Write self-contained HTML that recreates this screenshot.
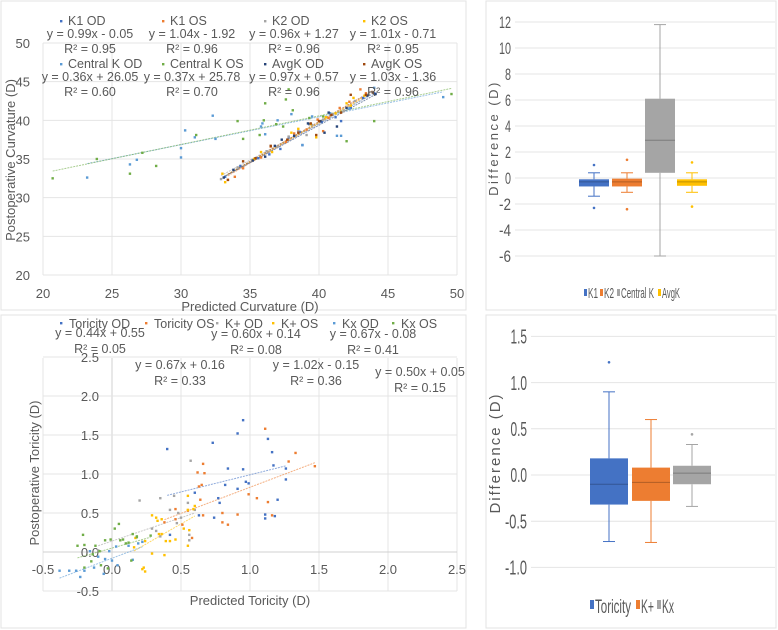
<!DOCTYPE html>
<html><head><meta charset="utf-8">
<style>
html,body{margin:0;padding:0;background:#fff;}
svg{display:block;font-family:"Liberation Sans",sans-serif;}
.t{fill:#595959;}
</style></head>
<body>
<svg id="fig" width="778" height="630" viewBox="0 0 778 630">
<rect x="0" y="0" width="778" height="630" fill="#fff"/>
<rect x="1" y="1" width="465" height="309" fill="none" stroke="#e3e3e3"/>
<rect x="1" y="315" width="465" height="313" fill="none" stroke="#e3e3e3"/>
<rect x="486" y="1" width="290" height="309" fill="none" stroke="#e3e3e3"/>
<rect x="486" y="315" width="290" height="313" fill="none" stroke="#e3e3e3"/>
<g id="g1"></g><g id="g2"></g><g id="g3"></g><g id="g4"></g>
</svg>
<script>
// ---------- Chart 1 data (curvature) ----------
const c1Series = ["K1 OD","K1 OS","K2 OD","K2 OS","Central K OD","Central K OS","AvgK OD","AvgK OS"];
const c1Colors = ["#4472C4","#ED7D31","#A5A5A5","#FFC000","#5B9BD5","#70AD47","#264478","#9E480E"];
const c1Slopes = [0.99,1.04,0.96,1.01,0.36,0.37,0.97,1.03];
const c1Intercepts = [-0.05,-1.92,1.27,-0.71,26.05,25.78,0.57,-1.36];
const c1Eq = ["y = 0.99x - 0.05","y = 1.04x - 1.92","y = 0.96x + 1.27","y = 1.01x - 0.71","y = 0.36x + 26.05","y = 0.37x + 25.78","y = 0.97x + 0.57","y = 1.03x - 1.36"];
const c1R2 = ["R² = 0.95","R² = 0.96","R² = 0.96","R² = 0.95","R² = 0.60","R² = 0.70","R² = 0.96","R² = 0.96"];
const c1XTicks = [20,25,30,35,40,45,50];
const c1YTicks = [20,25,30,35,40,45,50];
const k1od = [[33.2,32.7],[34.3,34.1],[35.6,35.1],[36.4,35.6],[37.2,36.3],[37.8,37.8],[38.6,38.5],[39.3,39.5],[40.2,39.8],[40.8,40.9],[41.2,40.4],[41.6,39.9],[42.3,41.6],[43.2,42.9],[44,43.5],[38.8,36.8]];
const k1os = [[33.4,32.3],[33.9,32.7],[34.5,33.8],[35.8,35.2],[36.5,36.6],[37.6,37.2],[38.2,38.3],[39.1,38.8],[39.9,40.1],[40.7,40.3],[41.5,41.6],[42.2,42.4],[43,44],[43.4,43.5],[40.3,38.6]];
const k2od = [[32.9,32.4],[34.1,33.9],[35.2,34.9],[36.2,36],[37,36.6],[37.8,37.9],[38.5,38.6],[39.5,39.4],[40.3,40.1],[41,40.8],[41.8,41.2],[42.6,42.5],[43.6,43.3],[39.1,38.1]];
const k2os = [[33,33.1],[33.2,32],[35.3,35],[35.8,35.9],[36.6,35.9],[38,38.4],[38.5,38.9],[39.4,39.5],[39.8,37.8],[40.5,40.4],[41.2,40.9],[42,42.2],[42.5,42.9],[43.3,43.2],[42.3,41.9]];
const ckod = [[23.2,32.6],[26.3,34.3],[26.8,34.9],[30,35.2],[30,36.4],[30.3,38.7],[31,37.8],[32.3,40.6],[32.5,37.6],[35.8,39.2],[35.9,39.6],[36.1,38.2],[37,40],[38.8,36.8],[40.8,40.9],[41.3,38],[41.6,38],[42.2,41.5],[44,44.2],[49,43],[38,40.8],[39.5,40.5]];
const ckos = [[20.7,32.5],[23.9,35],[26.3,33.1],[27.2,35.8],[28.2,34.1],[31.1,38.1],[34.1,39.9],[34.5,37.6],[35.7,38.1],[36.1,42.2],[36,40],[36.9,39.5],[37.4,39.2],[37.6,42.7],[38.1,41.3],[39.3,40.3],[40.3,40.5],[42,37.3],[44,39.9],[49.6,43.4],[37.8,44]];
const avod = [[33.1,32.6],[33.8,33.6],[35.2,34.8],[36.1,35.3],[36.8,36.7],[37.3,37.5],[38.2,38],[39.2,39.6],[40.1,39.9],[40.7,41],[41.3,39.2],[42,41.6],[43.5,43.2],[44.1,43.4],[40.4,38.4]];
const avos = [[33.4,32.3],[34.5,34.7],[35.4,35.1],[36.5,36.7],[37.7,37.5],[38.5,38.4],[39.4,39.6],[40,39.9],[40.9,40.7],[41.6,41],[42.3,43.3],[43.4,43.3],[43.9,43.6],[39.8,38.1]];
const c1Points = [k1od,k1os,k2od,k2os,ckod,ckos,avod,avos];

// ---------- Chart 2 data (toricity) ----------
const c2Series = ["Toricity OD","Toricity OS","K+ OD","K+ OS","Kx OD","Kx OS"];
const c2Colors = ["#4472C4","#ED7D31","#A5A5A5","#FFC000","#5B9BD5","#70AD47"];
const c2Slopes = [0.44,0.67,0.60,1.02,0.67,0.50];
const c2Intercepts = [0.55,0.16,0.14,-0.15,-0.08,0.05];
const c2Eq = ["y = 0.44x + 0.55","y = 0.67x + 0.16","y = 0.60x + 0.14","y = 1.02x - 0.15","y = 0.67x - 0.08","y = 0.50x + 0.05"];
const c2R2 = ["R² = 0.05","R² = 0.33","R² = 0.08","R² = 0.36","R² = 0.41","R² = 0.15"];
const c2XTicks = ["-0.5","0.0","0.5","1.0","1.5","2.0","2.5"];
const c2YTicks = ["-0.5","0.0","0.5","1.0","1.5","2.0","2.5"];
const tod = [[0.4,1.32],[0.73,1.4],[0.91,1.52],[0.95,1.69],[1.13,1.45],[1.16,1.28],[1.17,1.11],[1.26,1.07],[1.26,0.93],[0.84,1.07],[0.95,1.06],[0.97,0.9],[0.99,0.88],[0.91,0.81],[0.82,0.86],[0.77,0.69],[0.78,0.63],[0.6,0.76],[0.63,0.47],[0.74,0.44],[1.11,0.48],[1.11,0.43],[1.18,0.46],[1.2,0.67],[0.42,0.22]];
const tos = [[1.11,1.58],[1.33,1.27],[1.28,1.16],[1.47,1.1],[0.66,1.13],[0.62,1.02],[0.67,1.01],[0.65,0.86],[0.63,0.84],[0.64,0.67],[0.99,0.74],[1.05,0.69],[1.13,0.64],[0.8,0.5],[0.66,0.47],[0.91,0.48],[1.16,0.47],[0.8,0.38],[0.84,0.35],[0.55,0.53],[0.46,0.55],[0.46,0.42],[0.38,0.38],[0.51,0.35],[0.58,0.18]];
const kpod = [[0.57,1.17],[0.2,0.66],[0.35,0.69],[0.45,0.72],[0.42,0.54],[0.55,0.63],[0.48,0.5],[0.5,0.44],[0.32,0.27],[0.35,0.2],[0.29,0.3],[0.56,0.15],[0.56,0.22],[0.6,0.54],[0.47,0.37],[-0.1,0.02]];
const kpos = [[0.29,0.47],[0.32,0.44],[0.33,0.4],[0.36,0.42],[0.34,0.23],[0.36,0.23],[0.39,0.14],[0.42,0.14],[0.46,0.16],[0.29,-0.02],[0.38,-0.04],[0.55,0.72],[0.6,0.59],[0.59,0.55],[0.55,0.54],[0.52,0.3],[0.56,0.28],[0.55,0.08],[0.23,-0.2],[0.24,-0.25],[0.22,-0.22],[0.17,0.18],[0.16,0.06],[0.24,0.14]];
const kxod = [[-0.38,-0.24],[-0.31,-0.24],[-0.26,-0.24],[-0.23,-0.32],[-0.2,-0.24],[-0.13,-0.2],[-0.1,-0.06],[-0.05,-0.09],[0,-0.11],[0.04,-0.17],[-0.06,-0.28],[-0.16,0.01],[0.03,0.07],[0.12,0.08],[0.19,0.11],[0.22,0.13],[-0.02,0.01],[0.15,-0.1]];
const kxos = [[-0.25,0.08],[-0.21,0.22],[-0.2,0.09],[-0.14,-0.03],[-0.12,0.08],[-0.09,0.01],[-0.05,0.15],[-0.01,0.16],[0.02,0.3],[0.05,0.36],[0.06,0.15],[0.08,0.16],[0.1,0.11],[0.12,0.12],[0.15,0.23],[0.18,0.19],[0.18,0.2],[-0.2,-0.2],[-0.15,-0.12],[-0.08,-0.17],[-0.03,-0.21],[0.14,-0.11],[0.28,0.21]];
const c2Points = [tod,tos,kpod,kpos,kxod,kxos];

// ---------- Chart 3 data (curvature difference boxes) ----------
const b1Cats = ["K1","K2","Central K","AvgK"];
const b1Colors = ["#4472C4","#ED7D31","#A5A5A5","#FFC000"];
const b1Min = [-1.4,-1.1,-6,-1.1];
const b1Q1 = [-0.65,-0.65,0.4,-0.6];
const b1Med = [-0.3,-0.3,2.9,-0.3];
const b1Q3 = [-0.1,-0.05,6.1,-0.1];
const b1Max = [0.4,0.4,11.8,0.4];
const b1Outliers = [[1.0,-2.3],[1.4,-2.4],[],[1.2,-2.2]];
const b1YTicks = [-6,-4,-2,0,2,4,6,8,10,12];

// ---------- Chart 4 data (toricity difference boxes) ----------
const b2Cats = ["Toricity","K+","Kx"];
const b2Colors = ["#4472C4","#ED7D31","#A5A5A5"];
const b2Min = [-0.72,-0.73,-0.34];
const b2Q1 = [-0.32,-0.28,-0.1];
const b2Med = [-0.1,-0.08,0.02];
const b2Q3 = [0.18,0.08,0.1];
const b2Max = [0.9,0.6,0.33];
const b2Outliers = [[1.22],[],[0.44]];
const b2YTicks = ["-1.0","-0.5","0.0","0.5","1.0","1.5"];

const NS="http://www.w3.org/2000/svg";
function mk(parent,tag,attrs,text){const e=document.createElementNS(NS,tag);for(const k in attrs)e.setAttribute(k,attrs[k]);if(text!==undefined)e.textContent=text;parent.appendChild(e);return e;}

// ===== Chart 1 =====
(function(){
const g=document.getElementById('g1');
const X=v=>43+(v-20)/30*414, Y=v=>275-(v-20)/30*232;
c1XTicks.forEach(v=>{const l=mk(g,'line',{x1:X(v),x2:X(v),y1:43,y2:275,stroke:'#e4e4e4'});

const t=mk(g,'text',{x:X(v),y:298,'font-size':13,'text-anchor':'middle',class:'t'},v);
});
c1YTicks.forEach(v=>{const l=mk(g,'line',{x1:43,x2:457,y1:Y(v),y2:Y(v),stroke:'#e4e4e4'});

const t=mk(g,'text',{x:30,y:Y(v)+5,'font-size':13,'text-anchor':'end',class:'t'},v);
});
const xt=mk(g,'text',{x:250,y:311,'font-size':13,'text-anchor':'middle',class:'t'},'Predicted Curvature (D)');

const yt=mk(g,'text',{x:0,y:0,'font-size':13,'text-anchor':'middle',class:'t',transform:'translate(15,160) rotate(-90)'},'Postoperative Curvature (D)');

c1Points.forEach((pts,i)=>{
 const xs=pts.map(p=>p[0]);const a=Math.min(...xs),b=Math.max(...xs);
 const tl=mk(g,'line',{x1:X(a),y1:Y(c1Slopes[i]*a+c1Intercepts[i]),x2:X(b),y2:Y(c1Slopes[i]*b+c1Intercepts[i]),stroke:c1Colors[i],'stroke-width':1,'stroke-dasharray':'2,1',opacity:0.6});
 
});
c1Points.forEach((pts,i)=>{pts.forEach(p=>{
 const r=mk(g,'rect',{x:X(p[0])-1.2,y:Y(p[1])-1.2,width:2.4,height:2.4,fill:c1Colors[i]});
 
});});
const cols=[90,192,294,393];
c1Series.forEach((s,i)=>{
 const cx=cols[i%4],row=Math.floor(i/4),by=row?68:25;
 const lg=mk(g,'g',{});
 
 mk(lg,'rect',{x:cx-30,y:by-5,width:2.4,height:2.4,fill:c1Colors[i]});
 mk(lg,'text',{x:cx-22,y:by,'font-size':12.5,class:'t'},s);
 const e=mk(g,'text',{x:cx,y:by+13,'font-size':12.5,'text-anchor':'middle',class:'t'},c1Eq[i]);
 
 const r=mk(g,'text',{x:cx,y:by+28,'font-size':12.5,'text-anchor':'middle',class:'t'},c1R2[i]);
 
});
})();

// ===== Chart 2 =====
(function(){
const g=document.getElementById('g2');
const X=v=>112+v*138, Y=v=>552-v*78;
c2XTicks.forEach(s=>{const v=parseFloat(s);
 const l=mk(g,'line',{x1:X(v),x2:X(v),y1:358,y2:591,stroke:v===0?'#d0d0d0':'#e4e4e4'});
 
 const t=mk(g,'text',{x:X(v),y:574,'font-size':13,'text-anchor':'middle',class:'t'},s);
 });
c2YTicks.forEach(s=>{const v=parseFloat(s);
 const l=mk(g,'line',{x1:43,x2:457,y1:Y(v),y2:Y(v),stroke:v===0?'#d0d0d0':'#e4e4e4'});
 
 const t=mk(g,'text',{x:99,y:Y(v)+5,'font-size':13,'text-anchor':'end',class:'t'},s);
 });
const xt=mk(g,'text',{x:250,y:605,'font-size':13,'text-anchor':'middle',class:'t'},'Predicted Toricity (D)');

const yt=mk(g,'text',{x:0,y:0,'font-size':13,'text-anchor':'middle',class:'t',transform:'translate(39,473) rotate(-90)'},'Postoperative Toricity (D)');

c2Points.forEach((pts,i)=>{
 const xs=pts.map(p=>p[0]);const a=Math.min(...xs),b=Math.max(...xs);
 const tl=mk(g,'line',{x1:X(a),y1:Y(c2Slopes[i]*a+c2Intercepts[i]),x2:X(b),y2:Y(c2Slopes[i]*b+c2Intercepts[i]),stroke:c2Colors[i],'stroke-width':1,'stroke-dasharray':'2,1',opacity:0.6});
 
});
c2Points.forEach((pts,i)=>{pts.forEach(p=>{
 const r=mk(g,'rect',{x:X(p[0])-1.2,y:Y(p[1])-1.2,width:2.4,height:2.4,fill:c2Colors[i]});
 
});});
const lx=[100,185,256,312,373,432];
c2Series.forEach((s,i)=>{
 const lg=mk(g,'g',{});
 
 mk(lg,'rect',{x:lx[i]-40,y:322,width:2.4,height:2.4,fill:c2Colors[i]});
 mk(lg,'text',{x:lx[i]-31,y:328,'font-size':12.5,class:'t'},s);
});
const ex=[100,180,256,316,373,420], ey=[337,369,338,369,338,376];
c2Eq.forEach((e,i)=>{
 const t=mk(g,'text',{x:ex[i],y:ey[i],'font-size':12.5,'text-anchor':'middle',class:'t'},e);
 
 const r=mk(g,'text',{x:ex[i],y:ey[i]+16,'font-size':12.5,'text-anchor':'middle',class:'t'},c2R2[i]);
 
});
})();

// ===== Box chart helper =====
function boxChart(g,cfg){
 const Y=cfg.Y;
 cfg.ticks.forEach(s=>{const v=parseFloat(s);
  const l=mk(g,'line',{x1:cfg.x0,x2:cfg.x1,y1:Y(v),y2:Y(v),stroke:'#e4e4e4'});
  
  const t=mk(g,'text',{x:cfg.lx,y:Y(v)+cfg.fs*0.36,'font-size':cfg.fs,'text-anchor':'end',class:'t','textLength':cfg.tl(s),'lengthAdjust':'spacingAndGlyphs'},s);
  });
 cfg.cats.forEach((c,i)=>{
  const cx=cfg.cx[i],w=cfg.w,col=cfg.colors[i];
  const bg=mk(g,'g',{});
  
  mk(bg,'line',{x1:cx,x2:cx,y1:Y(cfg.max[i]),y2:Y(cfg.q3[i]),stroke:col,'stroke-width':1});
  mk(bg,'line',{x1:cx,x2:cx,y1:Y(cfg.q1[i]),y2:Y(cfg.min[i]),stroke:col,'stroke-width':1});
  mk(bg,'line',{x1:cx-6,x2:cx+6,y1:Y(cfg.max[i]),y2:Y(cfg.max[i]),stroke:col});
  mk(bg,'line',{x1:cx-6,x2:cx+6,y1:Y(cfg.min[i]),y2:Y(cfg.min[i]),stroke:col});
  mk(bg,'rect',{x:cx-w/2,y:Y(cfg.q3[i]),width:w,height:Y(cfg.q1[i])-Y(cfg.q3[i]),fill:col});
  mk(bg,'line',{x1:cx-w/2,x2:cx+w/2,y1:Y(cfg.med[i]),y2:Y(cfg.med[i]),stroke:'rgba(0,0,0,0.25)'});
  cfg.out[i].forEach(v=>{const o=mk(g,'circle',{cx:cx,cy:Y(v),r:1.3,fill:col});
   });
 });
}

// ===== Chart 3 =====
(function(){
const g=document.getElementById('g3');
const Y=v=>178-v*13;
boxChart(g,{Y:Y,ticks:b1YTicks.map(String),x0:515,x1:775,lx:511,fs:17,tl:s=>s.length*6,
 cats:b1Cats,colors:b1Colors,cx:[594,627,660,692],w:30,min:b1Min,q1:b1Q1,med:b1Med,q3:b1Q3,max:b1Max,out:b1Outliers});
const yt=mk(g,'text',{x:0,y:0,'font-size':13,'text-anchor':'middle',class:'t','letter-spacing':'2.5',transform:'translate(498,138) rotate(-90)'},'Difference (D)');

const lx=[588,604,621,662],lw=[10,10,33,18];
b1Cats.forEach((c,i)=>{const lg=mk(g,'g',{});
 
 mk(lg,'rect',{x:lx[i]-4,y:289,width:3,height:7,fill:b1Colors[i]});
 mk(lg,'text',{x:lx[i],y:298,'font-size':15,class:'t',textLength:lw[i],lengthAdjust:'spacingAndGlyphs'},c);});
})();

// ===== Chart 4 =====
(function(){
const g=document.getElementById('g4');
const Y=v=>475-v*92.4;
boxChart(g,{Y:Y,ticks:b2YTicks,x0:531,x1:775,lx:527,fs:20,tl:s=>s.length*5.5,
 cats:b2Cats,colors:b2Colors,cx:[609,651,692],w:38,min:b2Min,q1:b2Q1,med:b2Med,q3:b2Q3,max:b2Max,out:b2Outliers});
const yt=mk(g,'text',{x:0,y:0,'font-size':15,'text-anchor':'middle',class:'t','letter-spacing':'2',transform:'translate(500,453) rotate(-90)'},'Difference (D)');

const lx=[595,641,662],lw=[36,13,12];
b2Cats.forEach((c,i)=>{const lg=mk(g,'g',{});
 
 mk(lg,'rect',{x:lx[i]-5,y:600,width:4,height:9,fill:b2Colors[i]});
 mk(lg,'text',{x:lx[i],y:613,'font-size':19,class:'t',textLength:lw[i],lengthAdjust:'spacingAndGlyphs'},c);});
})();
</script>
</body></html>
